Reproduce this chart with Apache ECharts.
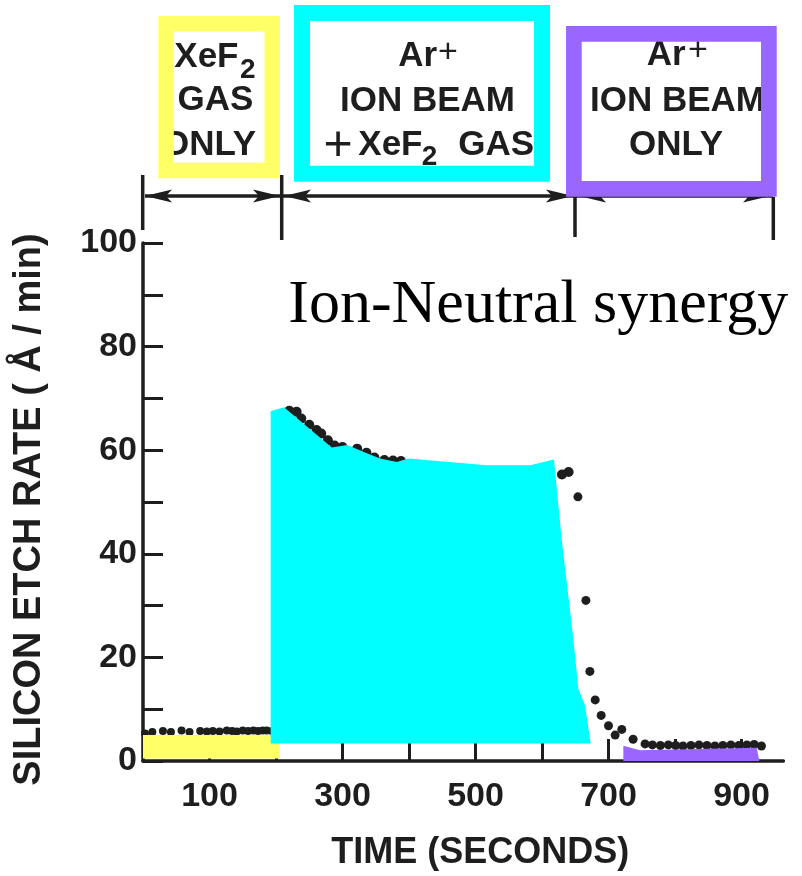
<!DOCTYPE html>
<html><head><meta charset="utf-8">
<script src="https://cdn.jsdelivr.net/npm/echarts@6/dist/echarts.min.js"></script>
<style>html,body{margin:0;padding:0;background:#fff}#c{width:802px;height:876px}</style>
</head><body><div id="c"></div>
<script>
// ---- Data (time in seconds, etch rate in Å/min) ----
var gasOnlyT = [3, 14, 30, 42, 58, 70, 86, 96, 105, 115, 126, 134, 141, 150, 158, 166, 173, 180, 186, 194];
var gasOnlyV = [5.3, 5.6, 5.8, 5.6, 5.9, 5.6, 5.8, 5.7, 5.8, 5.7, 5.9, 5.8, 5.7, 5.9, 5.8, 5.9, 5.8, 5.9, 5.9, 5.8];

var ionGasT = [220, 231, 238, 250, 261, 268, 278, 288, 300, 322, 336, 348, 363, 376, 388, 410, 430, 450, 470, 490, 510, 530, 550, 570, 590, 610, 630, 640];
var ionGasV = [67.6, 67.4, 66.1, 64.9, 63.9, 63.2, 61.9, 60.9, 60.6, 60.3, 59.5, 58.6, 58.1, 58.0, 57.9, 56.5, 56.3, 56.1, 56.0, 55.9, 55.8, 55.7, 55.6, 55.6, 55.5, 55.5, 55.3, 55.8];

var ionOnlyT = [654, 666, 672, 680, 689, 700, 710, 720, 737, 755, 766, 778, 790, 801, 812, 824, 836, 848, 860, 872, 884, 896, 908, 919, 930];
var ionOnlyV = [51.0, 31.0, 17.3, 11.8, 8.8, 6.8, 5.0, 6.1, 4.2, 3.3, 3.1, 3.0, 3.1, 3.0, 2.9, 3.0, 3.1, 3.0, 2.9, 3.0, 3.1, 3.0, 3.1, 3.2, 2.9];

// highlight overlays (polygon vertices in data units)
var yellowX = [0, 205.5, 205.5, 0];
var yellowY = [0.5, 0.5, 5.0, 5.0];
var cyanX = [192.0, 192.0, 212.0, 283.8, 307.2, 336.4, 356.4, 381.5, 398.9, 516.8, 582.0, 618.0, 629.6, 647.1, 654.6, 664.7, 673.2];
var cyanY = [3.37, 67.5, 68.3, 60.5, 61.0, 59.4, 58.4, 57.7, 58.4, 57.1, 57.1, 58.2, 42.8, 23.6, 14.0, 10.7, 3.37];
var purpleX = [722.3, 747.4, 922.9, 926.8, 722.3];
var purpleY = [2.93, 2.08, 2.54, 0, 0];

var xTicks = [100, 200, 300, 400, 500, 600, 700, 800, 900];
var xLabels = [100, 300, 500, 700, 900];
var yTicks = [0, 10, 20, 30, 40, 50, 60, 70, 80, 90, 100];
var yLabels = [0, 20, 40, 60, 80, 100];

var INK = '#1e1e1e';
var SANS = "'Liberation Sans', Arial, Helvetica, sans-serif";
var YELLOW = '#ffff66', CYAN = '#00ffff', PURPLE = '#9966ff';

function zip(a, b) { return a.map(function (v, i) { return [v, b[i]]; }); }

function polySeries(name, xs, ys, color) {
  return {
    type: 'custom', name: name, z: 5, silent: true, clip: false,
    data: zip(xs, ys),
    renderItem: function (params, api) {
      if (params.dataIndex !== 0) return null;
      var pts = xs.map(function (x, i) { return api.coord([x, ys[i]]); });
      return { type: 'polygon', shape: { points: pts }, style: { fill: color } };
    }
  };
}

function dots(name, t, v, size) {
  return {
    type: 'scatter', name: name, z: 3, silent: true,
    data: zip(t, v), symbol: 'circle', symbolSize: size,
    itemStyle: { color: INK, opacity: 1 }
  };
}

function txt(str, x, y, size, opt) {
  opt = opt || {};
  return {
    type: 'text', x: x, y: y, z: 20,
    style: {
      text: str, fill: opt.color || INK,
      font: (opt.weight || 'bold') + ' ' + size + 'px ' + (opt.family || SANS),
      align: opt.align || 'left', verticalAlign: 'middle'
    }
  };
}
function boxFrame(x0, y0, x1, y1, lw, color) {
  return {
    type: 'rect', z: 30,
    shape: { x: x0 + lw / 2, y: y0 + lw / 2, width: x1 - x0 - lw, height: y1 - y0 - lw },
    style: { fill: null, stroke: color, lineWidth: lw, lineJoin: 'miter' }
  };
}
function vline(x, y0, y1) {
  return { type: 'line', z: 10, shape: { x1: x, y1: y0, x2: x, y2: y1 }, style: { stroke: INK, lineWidth: 3.5 } };
}
function arrowHead(tip, y, dir) {
  var L = 27, W = 6.5, B = 21;
  return {
    type: 'polygon', z: 10,
    shape: { points: [[tip, y], [tip - dir * L, y - W], [tip - dir * B, y], [tip - dir * L, y + W]] },
    style: { fill: INK }
  };
}

var AY = 196;
var graphics = [
  { type: 'line', z: 10, shape: { x1: 145, y1: AY, x2: 773, y2: AY }, style: { stroke: INK, lineWidth: 3.5 } },
  vline(142.7, 175, 230), vline(281.7, 175, 240), vline(575, 197, 237), vline(773.3, 197, 240),
  arrowHead(145, AY, -1), arrowHead(280, AY, 1), arrowHead(284, AY, -1),
  arrowHead(573, AY, 1), arrowHead(579, AY, -1), arrowHead(770, AY, 1),
  // yellow box text
  txt('XeF', 174.3, 57.5, 35), txt('2', 240, 70, 28), txt('GAS', 177.5, 100.8, 35), txt('ONLY', 162, 145, 35),
  // cyan box text
  txt('Ar', 398.3, 56.7, 35), txt('+', 438, 53, 34, { weight: 'normal' }), txt('ION BEAM', 340, 101.7, 35),
  txt('+', 338, 146.7, 50, { weight: 'normal', align: 'center' }),
  txt('XeF', 358.3, 145.8, 35), txt('2', 421.7, 157.5, 28), txt('GAS', 458.3, 145.8, 35),
  // purple box text
  txt('Ar', 646.7, 55.8, 35), txt('+', 688, 50.5, 34, { weight: 'normal' }), txt('ION BEAM', 590, 101, 35), txt('ONLY', 629, 145, 35),
  // frames
  boxFrame(158.3, 16, 280, 178.3, 15.5, YELLOW),
  boxFrame(294, 5, 550, 181.7, 16, CYAN),
  boxFrame(566, 26, 776.7, 196.7, 15.7, PURPLE),
  // annotation
  txt('Ion-Neutral synergy', 288.3, 305.8, 62, { weight: 'normal', color: '#000', family: "'Liberation Serif', 'Times New Roman', serif" })
];

var chart = echarts.init(document.getElementById('c'), null, { renderer: 'canvas' });
chart.setOption({
  animation: false,
  backgroundColor: '#fff',
  grid: { left: 143, top: 243, right: 18.6, bottom: 113.5, containLabel: false },
  xAxis: {
    type: 'value', min: 0, max: 963, interval: 100,
    name: 'TIME (SECONDS)', nameLocation: 'middle', nameGap: 74,
    nameTextStyle: { color: INK, fontSize: 36, fontWeight: 'bold', fontFamily: SANS, padding: [0, 0, 0, 34] },
    axisLine: { show: true, onZero: false, lineStyle: { color: INK, width: 3.5 } },
    axisTick: { show: true, inside: true, length: 22, customValues: xTicks, lineStyle: { color: INK, width: 3 } },
    axisLabel: { customValues: xLabels, color: INK, fontSize: 34, fontWeight: 'bold', fontFamily: SANS, margin: 19 },
    splitLine: { show: false }
  },
  yAxis: {
    type: 'value', min: 0, max: 100, interval: 20,
    name: 'SILICON ETCH RATE ( Å / min)', nameLocation: 'middle', nameGap: 94, nameRotate: 90,
    nameTextStyle: { color: INK, fontSize: 38, fontWeight: 'bold', fontFamily: SANS, padding: [0, 15, 0, 0] },
    axisLine: { show: true, onZero: false, lineStyle: { color: INK, width: 3.5 } },
    axisTick: { show: true, inside: true, length: 20, customValues: yTicks, lineStyle: { color: INK, width: 3 } },
    axisLabel: { customValues: yLabels, color: INK, fontSize: 34, fontWeight: 'bold', fontFamily: SANS, margin: 6 },
    splitLine: { show: false }
  },
  series: [
    dots('XeF2 gas only', gasOnlyT, gasOnlyV, 8),
    dots('Ar+ ion beam + XeF2 gas', ionGasT, ionGasV, 10),
    dots('Ar+ ion beam only', ionOnlyT, ionOnlyV, 9),
    polySeries('yellow', yellowX, yellowY, YELLOW),
    polySeries('cyan', cyanX, cyanY, CYAN),
    polySeries('purple', purpleX, purpleY, PURPLE)
  ],
  graphic: graphics
});
</script></body></html>
